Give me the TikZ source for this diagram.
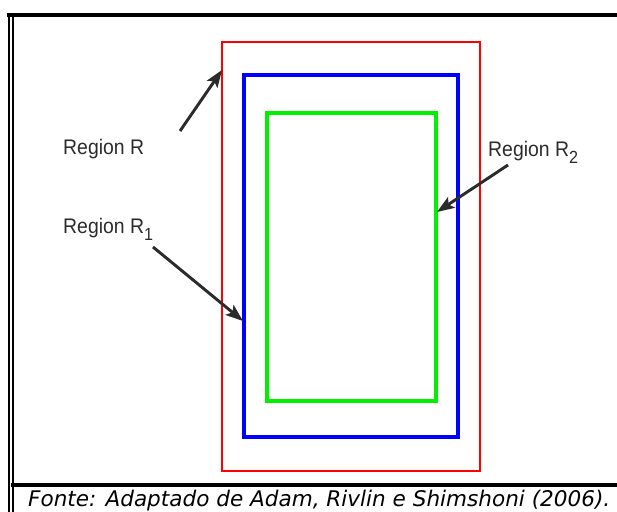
\documentclass[tikz,border=0pt]{standalone}
\usepackage{fontspec}
\setmainfont{Liberation Sans}
\newfontfamily\capfont{DejaVu Sans}
\usepackage{tikz}
\usetikzlibrary{arrows.meta}
\definecolor{lbl}{HTML}{2B2B2B}
\definecolor{pgreen}{HTML}{00F000}
\newcommand{\lowidx}[1]{\raisebox{-0.6ex}{\fontsize{15}{16}\selectfont #1}}
\newcommand{\narrowtxt}[1]{\scalebox{0.92}[1]{#1}}
\tikzset{
  regbox/.style={draw=#1, line join=miter},
  frm/.style={draw=black, line cap=rect},
  lab/.style={font=\fontsize{18}{20}\selectfont, text=lbl, inner sep=0pt, anchor=base west},
  pa/.style={draw=lbl, line width=2.5pt, -{Stealth[length=5.2mm, width=3.8mm, inset=1.1mm]}},   % pointer arrow
}
\begin{document}
\begin{tikzpicture}[x=0.03cm, y=-0.03cm]
  \useasboundingbox (0,0) rectangle (617,512);
  % frame
  \draw[frm, line width=2.6pt] (9,15) -- (617,15);
  \draw[frm, line width=2.1pt] (9,15) -- (9,512);
  \draw[frm, line width=1.1pt] (13,17) -- (13,512);
  \draw[frm, line width=2.6pt] (13,485) -- (617,485);
  % regions
  \draw[regbox=red,    line width=2.1pt] (222,42)  rectangle (480,471);
  \draw[regbox=blue,   line width=3.4pt] (244,75)  rectangle (458,437);
  \draw[regbox=pgreen, line width=3.2pt] (267,113) rectangle (436,401);
  % labels
  \node[lab] (labR)  at (63,155)  {\narrowtxt{Region R}};
  \node[lab] (labR1) at (63,234)  {\narrowtxt{Region R\lowidx{1}}};
  \node[lab] (labR2) at (488,157) {\narrowtxt{Region R\lowidx{2}}};
  \coordinate (tR)  at (180,131);
  \coordinate (hR)  at (222,70);
  \coordinate (tR1) at (153,247);
  \coordinate (hR1) at (243,321);
  \coordinate (tR2) at (508,165);
  \coordinate (hR2) at (437,212);
  \draw[pa] (tR)  -- (hR);
  \draw[pa] (tR1) -- (hR1);
  \draw[pa] (tR2) -- (hR2);
  \node[font=\capfont\itshape\fontsize{18.4}{20}\selectfont, inner sep=0pt, anchor=base west] (cap)
    at (28,506) {Fonte: Adaptado de Adam, Rivlin e Shimshoni (2006).};
\end{tikzpicture}
\end{document}
